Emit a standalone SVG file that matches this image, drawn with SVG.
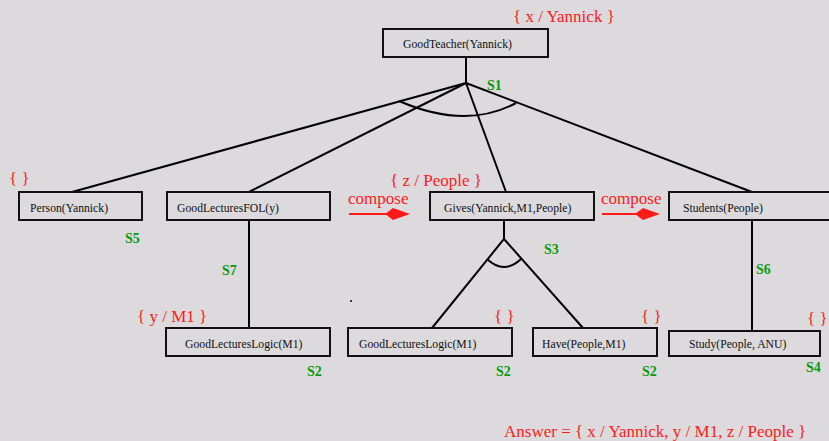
<svg xmlns="http://www.w3.org/2000/svg" width="829" height="441" viewBox="0 0 829 441">
<style>
.box{fill:none;stroke:#111;stroke-width:2}
.lbl{font-family:"Liberation Serif",serif;font-size:11.7px;fill:#111}
.sub{font-family:"Liberation Serif",serif;font-size:17px;fill:#ff1a1a}
.s{font-family:"Liberation Serif",serif;font-size:14px;font-weight:bold;fill:#0a9a0a}
.ln{fill:none;stroke:#000;stroke-width:2}
.arr{stroke:#ff1a1a;stroke-width:2;fill:none}
.head{fill:#ff1a1a}
</style>
<rect width="829" height="441" fill="#dcdadd"/>
<g id="connectors">
<path class="ln" d="M466,57 L466,83"/>
<path class="ln" d="M466,83 L72,192 M466,83 L249,192 M466,83 L506,192 M466,83 L752,192"/>
<path class="ln" d="M399,101 Q466,130 516,103"/>
<path class="ln" d="M249,220 L249,328"/>
<path class="ln" d="M504,220 L504,239 L432,328 M504,239 L583,328"/>
<path class="ln" d="M487,259 Q504,275 521,259"/>
<path class="ln" d="M752,220 L752,331"/>
</g>
<g id="compose1">
<text class="sub" x="348" y="204">compose</text>
<path class="arr" d="M349,214 L390,214"/>
<polygon class="head" points="385,214 393,208 410,214 393,220"/>
</g>
<g id="compose2">
<text class="sub" x="601" y="204">compose</text>
<path class="arr" d="M602,214 L640,214"/>
<polygon class="head" points="635,214 643,208 660,214 643,220"/>
</g>
<g id="goodteacher">
<rect class="box" x="383" y="29" width="165" height="28"/>
<text class="lbl" x="403" y="48">GoodTeacher(Yannick)</text>
<text class="sub" x="513" y="22">{ x / Yannick }</text>
<text class="s" x="487" y="90">S1</text>
</g>
<g id="person">
<rect class="box" x="19" y="192" width="123" height="28"/>
<text class="lbl" x="30" y="212">Person(Yannick)</text>
<text class="sub" x="9" y="184">{ }</text>
<text class="s" x="125" y="243">S5</text>
</g>
<g id="goodlecturesfol">
<rect class="box" x="167" y="192" width="163" height="28"/>
<text class="lbl" x="177" y="212">GoodLecturesFOL(y)</text>
<text class="s" x="222" y="275">S7</text>
</g>
<g id="gives">
<rect class="box" x="430" y="192" width="164" height="28"/>
<text class="lbl" x="444" y="212">Gives(Yannick,M1,People)</text>
<text class="sub" x="390" y="186">{ z / People }</text>
<text class="s" x="544" y="254">S3</text>
</g>
<g id="students">
<rect class="box" x="669" y="192" width="165" height="28"/>
<text class="lbl" x="683" y="212">Students(People)</text>
<text class="s" x="756" y="274">S6</text>
</g>
<g id="gll1">
<rect class="box" x="166" y="328" width="164" height="28"/>
<text class="lbl" x="185" y="348">GoodLecturesLogic(M1)</text>
<text class="sub" x="137" y="322">{ y / M1 }</text>
<text class="s" x="307" y="376">S2</text>
</g>
<g id="gll2">
<rect class="box" x="348" y="328" width="164" height="28"/>
<text class="lbl" x="359" y="348">GoodLecturesLogic(M1)</text>
<text class="sub" x="494" y="322">{ }</text>
<text class="s" x="496" y="376">S2</text>
</g>
<g id="have">
<rect class="box" x="533" y="328" width="124" height="28"/>
<text class="lbl" x="542" y="348">Have(People,M1)</text>
<text class="sub" x="641" y="322">{ }</text>
<text class="s" x="642" y="376">S2</text>
</g>
<g id="study">
<rect class="box" x="669" y="331" width="151" height="25"/>
<text class="lbl" x="689" y="348">Study(People, ANU)</text>
<text class="sub" x="807" y="324">{ }</text>
<text class="s" x="806" y="372">S4</text>
</g>
<circle cx="351" cy="301" r="1" fill="#000"/>
<text class="sub" x="504" y="437">Answer = { x / Yannick, y / M1, z / People }</text>
</svg>
